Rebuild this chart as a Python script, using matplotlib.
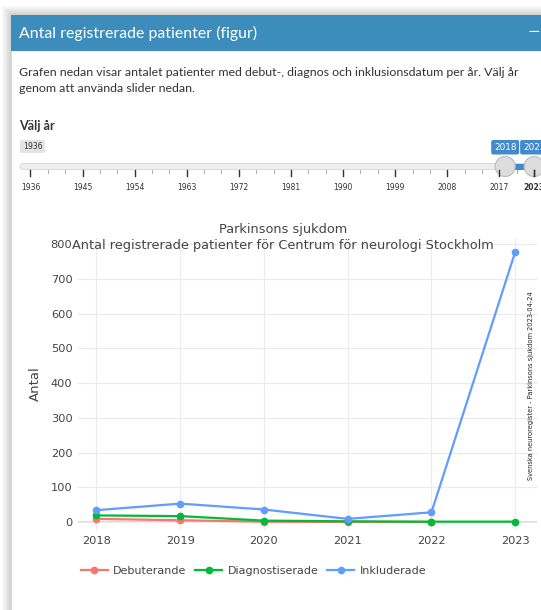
import numpy as np
import matplotlib.pyplot as plt
from matplotlib.patches import Rectangle, FancyBboxPatch, Circle

W, H = 541, 610

# chart data
years = [2018, 2019, 2020, 2021, 2022, 2023]
debuterande = [9, 5, 1, 0, 0]
diagnostiserade = [19, 17, 4, 2, 1, 1]
inkluderade = [34, 53, 36, 9, 28, 778]
series_names = ["Debuterande", "Diagnostiserade", "Inkluderade"]
colors = ["#F8766D", "#00BA38", "#619CFF"]

# slider settings
slider_min, slider_max = 1936, 2023
slider_sel = (2018, 2023)
slider_labels = list(range(1936, 2018, 9)) + [2023]

fig = plt.figure(figsize=(W / 100, H / 100), dpi=100)
fig.patch.set_facecolor("white")

# background "web page" layer, drawn in pixel coordinates
bg = fig.add_axes([0, 0, 1, 1], zorder=0)
bg.set_xlim(0, W)
bg.set_ylim(H, 0)
bg.axis("off")

# panel shadow
for i in range(10):
    bg.add_patch(Rectangle((11 - i, 15 - i), W + 20, H + 20, facecolor="#000000",
                           alpha=0.018, edgecolor="none"))
bg.add_patch(Rectangle((11, 15), W, H, facecolor="white", edgecolor="#d2d6de", lw=0.6))
bg.add_patch(Rectangle((11, 15), W, 36, facecolor="#3c8dbc", edgecolor="none"))
bg.text(19, 33, "Antal registrerade patienter (figur)", color="white", fontsize=11.4,
        family="Lato", va="center", ha="left")
bg.text(534, 31, "\u2212", color="white", fontsize=11, va="center", ha="center")

bg.text(19, 72, "Grafen nedan visar antalet patienter med debut-, diagnos och inklusionsdatum per år. Välj år",
        color="#333333", fontsize=8.95, family="Lato", va="center", ha="left")
bg.text(19, 89, "genom att använda slider nedan.", color="#333333", fontsize=8.95,
        family="Lato", va="center", ha="left")
bg.text(19, 126, "Välj år", color="#333333", fontsize=9.1, family="Lato",
        weight="bold", va="center", ha="left")


def sx(yr):
    return 30.4 + (yr - slider_min) * 5.79


# slider track
bg.add_patch(FancyBboxPatch((20, 163.5), 530, 6, boxstyle="round,pad=0,rounding_size=3",
                            facecolor="#eeeeee", edgecolor="#d5d5d5", lw=0.6))
bg.add_patch(Rectangle((sx(slider_sel[0]), 163.5), sx(slider_sel[1]) - sx(slider_sel[0]), 6,
                       facecolor="#428bca", edgecolor="none"))
for yr in range(slider_min, slider_max + 1, 3):
    major = yr in slider_labels
    bg.plot([sx(yr), sx(yr)], [170, 176 if major else 173], color="#333333" if major else "#999999",
            lw=1.0 if major else 0.6)
for yr in slider_labels:
    bg.text(sx(yr), 187, str(yr), fontsize=5.5, color="#333333", ha="center", va="center",
            family="DejaVu Sans", weight="bold" if yr == slider_max else "normal")
bg.plot([sx(2023), sx(2023)], [170, 176], color="#333333", lw=1.0)

bg.add_patch(FancyBboxPatch((20, 140), 25, 13, boxstyle="round,pad=0,rounding_size=2",
                            facecolor="#e4e4e4", edgecolor="none"))
bg.text(32.5, 146.5, str(slider_min), fontsize=5.6, color="#333333", ha="center", va="center")
for yr in slider_sel:
    x = sx(yr)
    bg.add_patch(FancyBboxPatch((x - 14, 140), 28, 14.5, boxstyle="round,pad=0,rounding_size=2",
                                facecolor="#428bca", edgecolor="none"))
    bg.text(x, 147.5, str(yr), fontsize=6.4, color="white", ha="center", va="center")
    bg.add_patch(Circle((x, 166.5), 10, facecolor="#dddddd", edgecolor="#bbbbbb", lw=0.8))

# chart
left, right, top, bottom = 78, 537, 238, 530
ax = fig.add_axes([left / W, 1 - bottom / H, (right - left) / W, (bottom - top) / H], zorder=1)
ax.set_facecolor("none")

ax.plot(years[:len(debuterande)], debuterande, color=colors[0], lw=1.6, marker="o",
        ms=4.5, label=series_names[0])
ax.plot(years, diagnostiserade, color=colors[1], lw=1.6, marker="o", ms=4.5,
        label=series_names[1])
ax.plot(years, inkluderade, color=colors[2], lw=1.6, marker="o", ms=4.5, label=series_names[2])

ax.set_xlim(2017.78, 2023.26)
ax.set_ylim(-23, 818)
ax.set_xticks(years)
ax.set_yticks(range(0, 801, 100))
ax.grid(True, color="#ebebeb", lw=0.8)
ax.set_axisbelow(True)
ax.axhline(0, color="#d6d6d6", lw=1.2, zorder=0.5)
for s in ax.spines.values():
    s.set_visible(False)
ax.tick_params(length=0, labelsize=8.2, labelcolor="#444444", pad=4)
ax.set_ylabel("Antal", fontsize=9.5, color="#444444", labelpad=6)

fig.text(283 / W, 1 - 229 / H, "Parkinsons sjukdom", ha="center", va="center",
         fontsize=9.3, color="#444444")
fig.text(283 / W, 1 - 245 / H, "Antal registrerade patienter för Centrum för neurologi Stockholm",
         ha="center", va="center", fontsize=9.3, color="#444444")
fig.text(531 / W, 1 - 386 / H, "Svenska neuroregister - Parkinsons sjukdom 2023-04-24",
         rotation=90, ha="center", va="center", fontsize=4.8, color="#222222")

fig.legend(loc="center left", bbox_to_anchor=(71 / W, 1 - 571 / H), ncol=3, frameon=False,
           fontsize=8, labelcolor="#444444", handlelength=2.4, columnspacing=0.8,
           handletextpad=0.5)

fig.savefig("out.png", dpi=100)
